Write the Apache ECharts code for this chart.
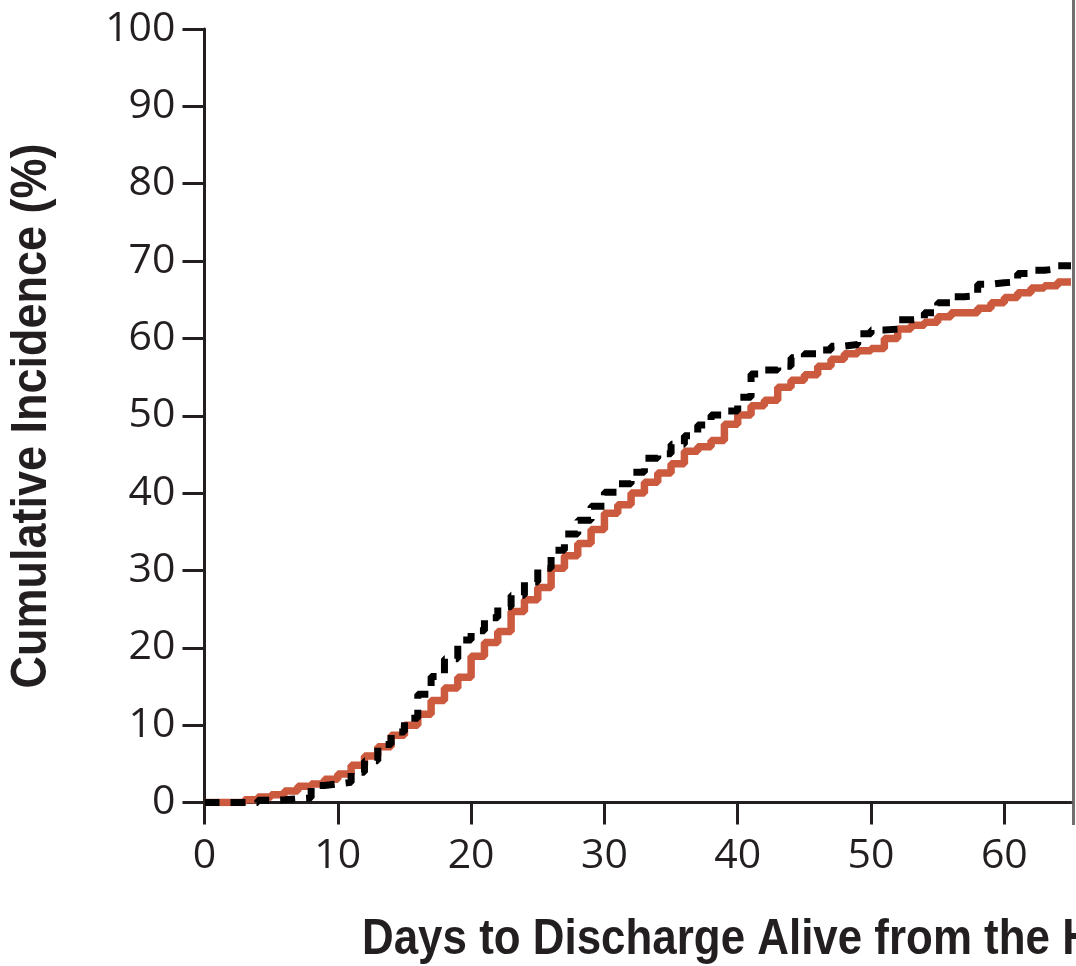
<!DOCTYPE html>
<html>
<head>
<meta charset="utf-8">
<script src="https://cdn.jsdelivr.net/npm/echarts@6/dist/echarts.min.js"></script>
<style>
  html, body { margin: 0; padding: 0; background: #ffffff; }
  #chart { width: 1076px; height: 966px; }
</style>
</head>
<body>
<div id="chart"></div>
<script>
// Day of follow-up (one step per day)
const days = [0, 1, 2, 3, 4, 5, 6, 7, 8, 9, 10, 11, 12, 13, 14, 15, 16, 17, 18, 19,
  20, 21, 22, 23, 24, 25, 26, 27, 28, 29, 30, 31, 32, 33, 34, 35, 36, 37, 38, 39,
  40, 41, 42, 43, 44, 45, 46, 47, 48, 49, 50, 51, 52, 53, 54, 55, 56, 57, 58, 59,
  60, 61, 62, 63, 64, 65];

// Cumulative incidence (%), solid red group
const solidGroup = [0, 0, 0, 0.35, 0.7, 1.0, 1.5, 2.1, 2.4, 3.0,
  3.7, 4.8, 6.0, 7.2, 8.7, 10.0, 11.4, 13.2, 14.8, 16.2,
  18.9, 20.7, 22.1, 24.7, 26.2, 27.8, 30.3, 31.9, 33.5, 35.3,
  37.4, 38.5, 40.0, 41.4, 42.6, 43.8, 45.4, 46.0, 46.8, 48.9,
  50.1, 51.3, 52.0, 53.7, 54.6, 55.3, 56.4, 57.3, 58.0, 58.4,
  58.7, 60.0, 61.2, 61.7, 62.1, 62.8, 63.3, 63.3, 63.9, 64.6,
  65.3, 65.9, 66.5, 66.8, 67.3, 67.3];

// Cumulative incidence (%), dashed black group
const dashedGroup = [0, 0, 0, 0, 0.3, 0.35, 0.5, 0.6, 2.2, 2.4,
  2.6, 3.9, 5.4, 7.5, 9.1, 10.9, 14.0, 16.3, 18.6, 21.0,
  22.2, 23.9, 25.3, 26.8, 28.5, 30.3, 32.6, 34.7, 36.5, 38.3,
  40.1, 41.2, 42.7, 44.5, 45.1, 46.3, 47.4, 48.8, 50.1, 50.6,
  52.4, 55.4, 55.9, 56.4, 57.5, 58.0, 58.5, 59.0, 59.2, 60.6,
  61.1, 61.2, 62.4, 62.5, 63.3, 64.6, 65.4, 65.5, 67.0, 67.2,
  67.3, 68.4, 68.8, 69.0, 69.4, 69.4];

// Tick positions
const xTicks = [0, 10, 20, 30, 40, 50, 60];
const yTicks = [0, 10, 20, 30, 40, 50, 60, 70, 80, 90, 100];

// Axis titles
const yTitle = 'Cumulative Incidence (%)';
const xTitle = 'Days to Discharge Alive from the Hospital';

const ink = '#231f20';
const numFont = "'Open Sans', 'Noto Sans', sans-serif";
const titleFont = "bold 50px 'Liberation Sans', Arial, sans-serif";

const chart = echarts.init(document.getElementById('chart'), null, { renderer: 'canvas' });

chart.setOption({
  animation: false,
  backgroundColor: '#ffffff',
  grid: { left: 204.5, right: 5, top: 29, bottom: 163.5 },
  xAxis: {
    type: 'value',
    min: 0,
    max: 65,
    interval: 10,
    splitLine: { show: false },
    axisLine: { show: true, lineStyle: { color: ink, width: 3 } },
    axisTick: { show: true, length: 22, customValues: xTicks, lineStyle: { color: ink, width: 3 } },
    axisLabel: {
      customValues: xTicks,
      margin: 33,
      fontFamily: numFont,
      fontSize: 41,
      color: ink
    }
  },
  yAxis: {
    type: 'value',
    min: 0,
    max: 100,
    interval: 10,
    splitLine: { show: false },
    axisLine: { show: true, lineStyle: { color: ink, width: 3 } },
    axisTick: { show: true, length: 22, customValues: yTicks, lineStyle: { color: ink, width: 3 } },
    axisLabel: {
      customValues: yTicks,
      margin: 29,
      fontFamily: numFont,
      fontSize: 41,
      color: ink
    }
  },
  series: [
    {
      type: 'line',
      step: 'end',
      symbol: 'none',
      data: days.map((d, i) => [d, solidGroup[i]]),
      lineStyle: { color: '#cc5a3e', width: 7.5 },
      z: 2
    },
    {
      type: 'line',
      step: 'end',
      symbol: 'none',
      data: days.map((d, i) => [d, dashedGroup[i]]),
      lineStyle: { color: '#000000', width: 7, type: [15, 11], cap: 'butt' },
      z: 3
    }
  ],
  graphic: [
    {
      // vertical axis title, set in a condensed bold face
      type: 'text',
      x: 32,
      y: 416,
      rotation: Math.PI / 2,
      scaleX: 0.9,
      silent: true,
      style: {
        text: yTitle,
        font: titleFont,
        fill: ink,
        align: 'center',
        verticalAlign: 'middle'
      }
    },
    {
      // horizontal axis title, running past the right edge
      type: 'text',
      x: 362,
      y: 940,
      scaleX: 0.878,
      silent: true,
      style: {
        text: xTitle,
        font: titleFont,
        fill: ink,
        align: 'left',
        verticalAlign: 'middle'
      }
    },
    {
      // frame edge of the neighbouring panel
      type: 'line',
      shape: { x1: 1073.5, y1: 0, x2: 1073.5, y2: 825 },
      style: { stroke: '#6f6f6f', lineWidth: 3 },
      silent: true
    }
  ]
});
</script>
</body>
</html>
